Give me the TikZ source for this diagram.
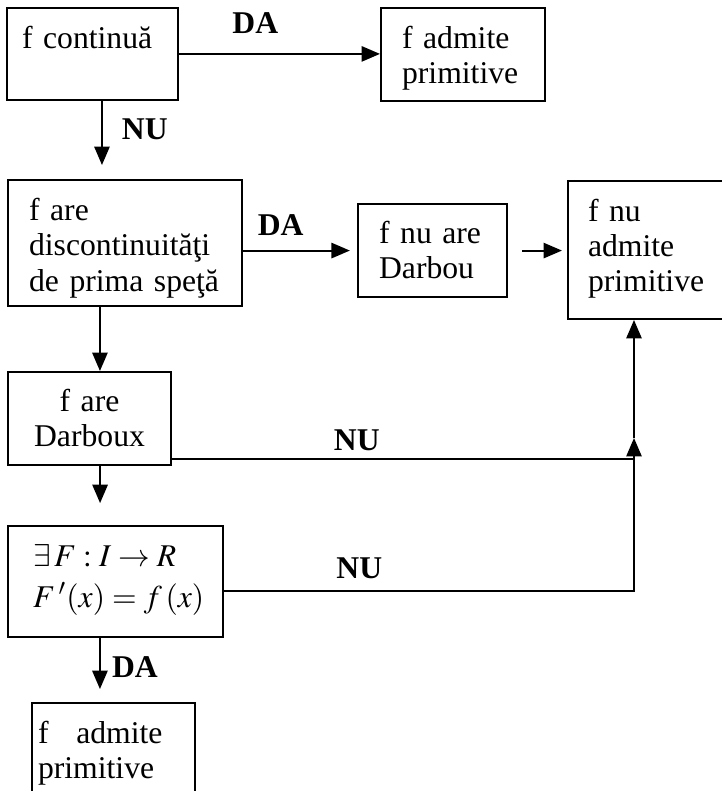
\documentclass[tikz,border=0pt]{standalone}
\usepackage{mathptmx}
\usepackage[no-math]{fontspec}
\setmainfont{Liberation Serif}
\usetikzlibrary{arrows.meta}

\begin{document}
\begin{tikzpicture}[x=0.379pt,y=-0.379pt,line width=0.75pt,
	font=\fontsize{12}{13.3}\selectfont,
	box/.style={draw=black,anchor=north west,align=left,inner ysep=0pt},
	lbl/.style={font=\fontsize{12}{13.3}\selectfont\bfseries,inner sep=1pt},
	arr/.style={-{Triangle[length=7pt,width=5.8pt]}}]
	\useasboundingbox (0,0) rectangle (722,791);
	\clip (0,0) rectangle (722,791);

	\node[box,inner xsep=5.7pt,text width=53.4pt,text height=15.5pt,text depth=19.3pt] (cont) at (6,7) {f continuă};
	\node[box,inner xsep=8pt,text width=46.2pt,text height=15.2pt,text depth=20.1pt] (admA) at (380,7) {f admite\\primitive};
	\node[box,inner xsep=8pt,text width=72.7pt,text height=15.5pt,text depth=32.2pt] (disc) at (7,179) {f are\\discontinuităţi\\de prima speţă};
	\node[box,inner xsep=8pt,text width=40.5pt,text height=14.8pt,text depth=20.5pt] (nodarb) at (357,203) {f nu are\\Darbou};
	\node[box,inner xsep=7.6pt,text width=55pt,text height=15.2pt,text depth=37.1pt] (noprim) at (567,180) {f nu\\admite\\primitive};
	\node[box,align=center,inner xsep=3.8pt,text width=54.2pt,text height=14.8pt,text depth=20.5pt] (darb) at (7,371) {f are\\Darboux};
	\node[box,inner xsep=9.5pt,text width=62.5pt,text height=15.2pt,text depth=26.9pt] (exF) at (7,525) {\mbox{$\exists\, F : I \to R$}\\[2.2pt]\mbox{$F\,'(x) = f\,(x)$}};
	\node[box,inner xsep=2.3pt,text width=57.2pt,text height=15.2pt,text depth=25.8pt] (admB) at (31,702) {f\hspace{10.5pt}admite\\primitive};

	\coordinate (jn) at (634,459);
	\coordinate (kn) at (634,591);
	\coordinate (up) at (634,438);

	\path[arr] (cont.east) edge node[lbl,above=6.2pt,pos=.38]{DA} (cont.east -| admA.west);
	\path[arr] ([xshift=3.6pt]cont.south) edge[shorten >=5.3pt] node[lbl,right=6.2pt,pos=.36]{NU} ([xshift=3.6pt]cont.south |- disc.north);
	\path[arr] (disc.east |- nodarb.west) edge[shorten >=2.7pt] node[lbl,above=4.3pt,pos=.33]{DA} (nodarb.west);
	\path[arr] (nodarb.east) edge[shorten <=5.3pt,shorten >=1.9pt] (nodarb.east -| noprim.west);
	\path[arr] ([xshift=-9.5pt]disc.south) edge ([xshift=-9.5pt]disc.south |- darb.north);
	\path[arr] ([xshift=4pt]darb.south) edge[shorten >=8.3pt] ([xshift=4pt]darb.south |- exF.north);
	\path[arr] ([xshift=-5.9pt]exF.south) edge[shorten >=4.9pt] node[lbl,right=3.2pt,pos=.45]{DA} ([xshift=-5.9pt]exF.south |- admB.north);

	\draw (darb.east |- jn) -- node[lbl,above=1.7pt,pos=.4]{NU} (jn);
	\draw[arr] (exF.east |- kn) -- node[lbl,above=3.2pt,pos=.33]{NU} (kn) -- (up);
	\draw[arr] (up) -- (up |- noprim.south);
\end{tikzpicture}
\end{document}
